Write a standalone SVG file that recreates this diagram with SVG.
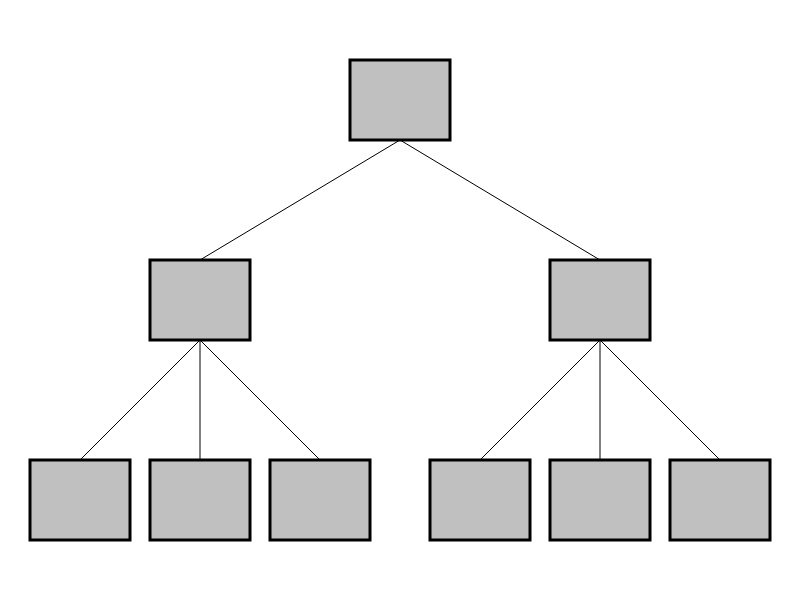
<svg xmlns="http://www.w3.org/2000/svg" width="800" height="600" viewBox="0 0 800 600">
<style>
.node rect{fill:#c0c0c0;stroke:#000;stroke-width:3}
.edges line{stroke:#000;stroke-width:1}
</style>
<rect width="800" height="600" fill="#fff"/>
<g class="edges" id="connectors">
<line x1="400" y1="140" x2="200" y2="260"/>
<line x1="400" y1="140" x2="600" y2="260"/>
<line x1="200" y1="340" x2="80" y2="460"/>
<line x1="200" y1="340" x2="200" y2="460"/>
<line x1="200" y1="340" x2="320" y2="460"/>
<line x1="600" y1="340" x2="480" y2="460"/>
<line x1="600" y1="340" x2="600" y2="460"/>
<line x1="600" y1="340" x2="720" y2="460"/>
</g>
<g class="node" id="root"><rect x="350" y="60" width="100" height="80"/></g>
<g class="node" id="left"><rect x="150" y="260" width="100" height="80"/></g>
<g class="node" id="right"><rect x="550" y="260" width="100" height="80"/></g>
<g class="node" id="leaf1"><rect x="30" y="460" width="100" height="80"/></g>
<g class="node" id="leaf2"><rect x="150" y="460" width="100" height="80"/></g>
<g class="node" id="leaf3"><rect x="270" y="460" width="100" height="80"/></g>
<g class="node" id="leaf4"><rect x="430" y="460" width="100" height="80"/></g>
<g class="node" id="leaf5"><rect x="550" y="460" width="100" height="80"/></g>
<g class="node" id="leaf6"><rect x="670" y="460" width="100" height="80"/></g>
</svg>
